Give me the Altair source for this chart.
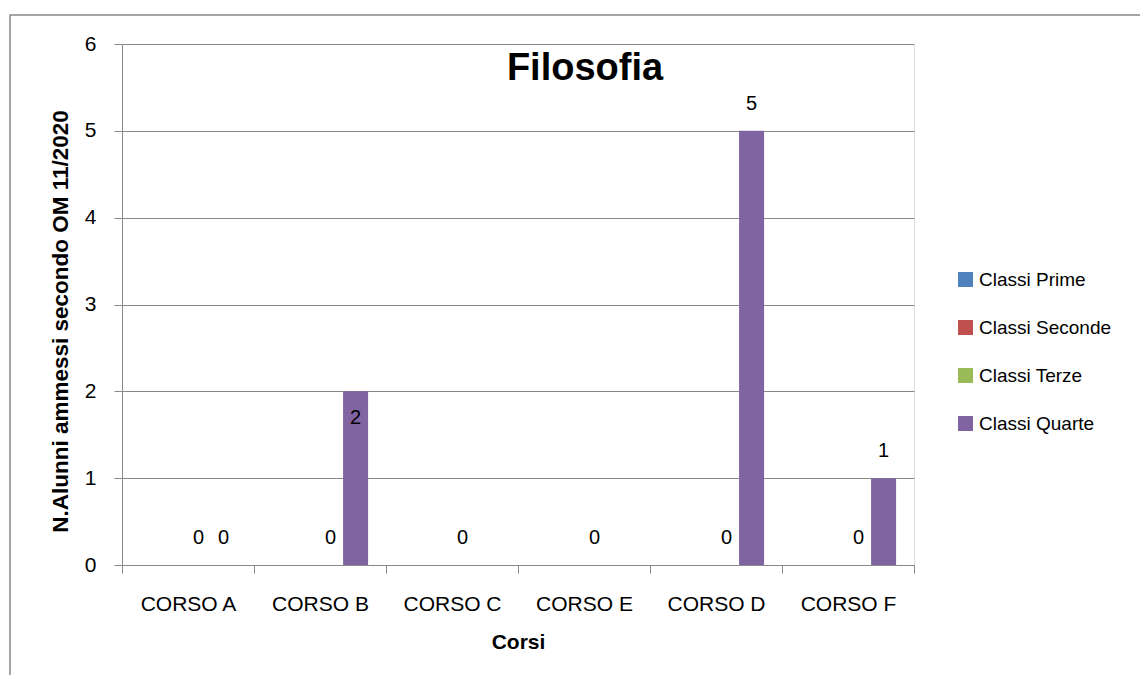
import altair as alt
import pandas as pd

courses = ["CORSO A", "CORSO B", "CORSO C", "CORSO E", "CORSO D", "CORSO F"]
series = ["Classi Prime", "Classi Seconde", "Classi Terze", "Classi Quarte"]
colors = ["#4F81BD", "#C0504D", "#9BBB59", "#8064A2"]

prime = [None, None, None, None, None, None]
seconde = [None, None, None, None, None, None]
terze = [0, 0, 0, 0, 0, 0]
quarte = [0, 2, None, None, 5, 1]
# label placement for Quarte values (Excel put the "2" inside the bar end)
quarte_label_inside = [False, True, False, False, False, False]

rows = []
for s, vals in zip(series, [prime, seconde, terze, quarte]):
    for i, (c, v) in enumerate(zip(courses, vals)):
        if v is None:
            continue
        inside = quarte_label_inside[i] if s == "Classi Quarte" else False
        rows.append({"Corso": c, "Serie": s, "Valore": v, "inside": inside})
df = pd.DataFrame(rows)

FONT = "Liberation Sans"

x_enc = alt.X("Corso:N", sort=courses,
              scale=alt.Scale(paddingInner=0, paddingOuter=0),
              axis=alt.Axis(title="Corsi", labelAngle=0, tickBand="extent",
                            labelFontSize=21, labelPadding=20, labelColor="#000",
                            titleFontSize=21, titleFontWeight="bold", titlePadding=17,
                            titleColor="#000", tickSize=8, tickColor="#888",
                            domainColor="#888", grid=False, labelFont=FONT, titleFont=FONT))
xo_enc = alt.XOffset("Serie:N", sort=series,
                     scale=alt.Scale(domain=series, paddingInner=0, paddingOuter=0.64, align=0.44))
y_enc = alt.Y("Valore:Q",
              scale=alt.Scale(domain=[0, 6]),
              axis=alt.Axis(title="N.Alunni ammessi secondo OM 11/2020", values=[0, 1, 2, 3, 4, 5, 6],
                            format="d", labelFontSize=21, labelPadding=18, labelColor="#000",
                            titleFontSize=22.5, titleFontWeight="bold", titleColor="#000",
                            titlePadding=12, titleY=277, tickSize=8, tickColor="#888",
                            domainColor="#888", gridColor="#888", labelFont=FONT, titleFont=FONT))

base = alt.Chart(df)

bars = base.mark_bar().encode(
    x=x_enc, xOffset=xo_enc, y=y_enc,
    color=alt.Color("Serie:N", sort=series,
                    scale=alt.Scale(domain=series, range=colors),
                    legend=alt.Legend(title=None, orient="none", legendX=834, legendY=226,
                                      symbolType="square", symbolSize=225, symbolStrokeWidth=0,
                                      labelFontSize=19, labelFont=FONT, labelColor="#000",
                                      rowPadding=28, labelOffset=4, padding=0)),
)

labels_out = base.transform_filter("!datum.inside").mark_text(
    fontSize=20, font=FONT, color="#000", dy=-27, baseline="middle"
).encode(x=alt.X("Corso:N", sort=courses), xOffset=alt.XOffset("Serie:N", sort=series),
         y="Valore:Q", text=alt.Text("Valore:Q", format="d"))

labels_in = base.transform_filter("datum.inside").mark_text(
    fontSize=20, font=FONT, color="#000", dy=27, baseline="middle"
).encode(x=alt.X("Corso:N", sort=courses), xOffset=alt.XOffset("Serie:N", sort=series),
         y="Valore:Q", text=alt.Text("Valore:Q", format="d"))

frame = alt.Chart(pd.DataFrame({"a": [0]})).mark_rect(
    fill=None, stroke="#888", strokeWidth=1.5, clip=False
).encode(x=alt.value(-112), x2=alt.value(1030), y=alt.value(-29), y2=alt.value(700))

title = alt.Chart(pd.DataFrame({"t": ["Filosofia"]})).mark_text(
    fontSize=38, fontWeight="bold", font=FONT, color="#000", align="center", baseline="alphabetic"
).encode(x=alt.value(463), y=alt.value(36), text="t:N")

chart = alt.layer(frame, bars, labels_out, labels_in, title).properties(
    width=792, height=521,
    autosize=alt.AutoSizeParams(type="none"),
    padding={"left": 114, "top": 36, "right": 226, "bottom": 110},
).configure_view(stroke=None).configure(background="white")

chart.save("out.html", embed_options={"renderer": "svg", "actions": False})
